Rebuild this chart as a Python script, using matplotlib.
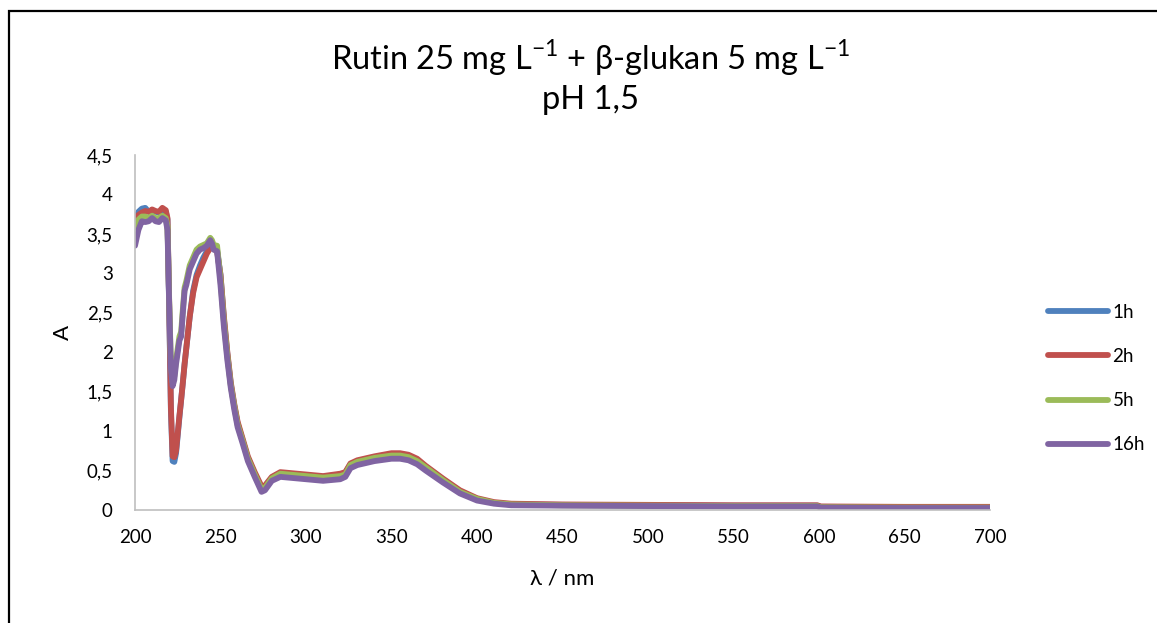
import matplotlib.pyplot as plt
from matplotlib.patches import Rectangle
from matplotlib.ticker import FuncFormatter

plt.rcParams['font.family'] = ['Lato', 'DejaVu Sans']
plt.rcParams['mathtext.fontset'] = 'custom'
plt.rcParams['mathtext.rm'] = 'Lato'

# wavelength grid (nm) and absorbance per sampling time
wavelength = [200, 202, 204, 206, 208, 210, 212, 214, 216, 218, 219, 220, 221, 222, 223, 224,
              226, 227, 228, 229, 230, 232, 234, 236, 238, 240, 242, 244, 245, 246, 248, 250,
              252, 254, 256, 258, 260, 263, 266, 270, 274, 276, 280, 285, 290, 300, 310, 320,
              323, 326, 330, 340, 350, 355, 360, 365, 370, 380, 390, 400, 410, 420, 450, 500,
              550, 599, 601, 650, 700]

abs_1h = [3.68, 3.78, 3.82, 3.83, 3.78, 3.80, 3.78, 3.77, 3.80, 3.78, 3.68, 2.55, 1.25, 0.62, 0.61, 0.72,
          1.18, 1.40, 1.62, 1.85, 2.05, 2.45, 2.78, 2.98, 3.10, 3.20, 3.28, 3.33, 3.36, 3.33, 3.30, 2.98,
          2.42, 1.98, 1.60, 1.33, 1.10, 0.88, 0.66, 0.46, 0.28, 0.30, 0.41, 0.47, 0.46, 0.44, 0.42, 0.45,
          0.47, 0.58, 0.62, 0.67, 0.70, 0.70, 0.68, 0.63, 0.55, 0.39, 0.24, 0.14, 0.09, 0.07, 0.065, 0.06,
          0.055, 0.055, 0.04, 0.035, 0.035]

abs_2h = [3.70, 3.74, 3.77, 3.79, 3.78, 3.81, 3.79, 3.78, 3.83, 3.80, 3.70, 2.60, 1.30, 0.68, 0.67, 0.75,
          1.20, 1.40, 1.62, 1.85, 2.05, 2.45, 2.75, 2.95, 3.05, 3.15, 3.25, 3.32, 3.35, 3.32, 3.28, 2.98,
          2.45, 2.00, 1.62, 1.35, 1.12, 0.90, 0.68, 0.48, 0.30, 0.31, 0.42, 0.48, 0.47, 0.45, 0.43, 0.46,
          0.48, 0.59, 0.63, 0.68, 0.72, 0.72, 0.70, 0.65, 0.56, 0.40, 0.25, 0.15, 0.10, 0.08, 0.07, 0.065,
          0.06, 0.06, 0.045, 0.04, 0.04]

abs_5h = [3.58, 3.68, 3.72, 3.72, 3.70, 3.73, 3.70, 3.70, 3.73, 3.70, 3.60, 2.65, 1.85, 1.62, 1.70, 1.90,
          2.20, 2.26, 2.55, 2.82, 2.90, 3.10, 3.20, 3.30, 3.34, 3.36, 3.38, 3.45, 3.42, 3.36, 3.35, 2.92,
          2.38, 1.95, 1.58, 1.32, 1.08, 0.87, 0.65, 0.45, 0.26, 0.28, 0.40, 0.46, 0.45, 0.43, 0.41, 0.43,
          0.45, 0.57, 0.61, 0.66, 0.69, 0.69, 0.67, 0.62, 0.54, 0.38, 0.23, 0.14, 0.09, 0.07, 0.06, 0.055,
          0.05, 0.05, 0.035, 0.03, 0.03]

abs_16h = [3.35, 3.55, 3.66, 3.65, 3.66, 3.70, 3.66, 3.65, 3.70, 3.67, 3.55, 2.60, 1.80, 1.57, 1.65, 1.85,
           2.15, 2.20, 2.50, 2.78, 2.85, 3.05, 3.15, 3.25, 3.30, 3.32, 3.35, 3.42, 3.38, 3.30, 3.28, 2.85,
           2.32, 1.90, 1.55, 1.28, 1.05, 0.84, 0.62, 0.42, 0.23, 0.25, 0.37, 0.42, 0.41, 0.39, 0.37, 0.39,
           0.42, 0.53, 0.57, 0.62, 0.65, 0.65, 0.63, 0.58, 0.50, 0.35, 0.21, 0.12, 0.08, 0.06, 0.055, 0.05,
           0.045, 0.045, 0.03, 0.025, 0.025]

labels = ['1h', '2h', '5h', '16h']
colors = ['#4F81BD', '#C0504D', '#9BBB59', '#8064A2']
series = [abs_1h, abs_2h, abs_5h, abs_16h]

fig = plt.figure(figsize=(11.57, 6.23), dpi=100)
ax = fig.add_axes([135 / 1157, 113 / 623, 855 / 1157, 355 / 623])

for vals, lab, col in zip(series, labels, colors):
    ax.plot(wavelength, vals, color=col, lw=4.2, label=lab,
            solid_capstyle='round', solid_joinstyle='round')

ax.set_xlim(200, 700)
ax.set_ylim(0, 4.5)
ax.set_xticks(range(200, 701, 50))
ax.set_yticks([i * 0.5 for i in range(10)])
comma = FuncFormatter(lambda v, p: ('%g' % v).replace('.', ','))
ax.yaxis.set_major_formatter(comma)
ax.tick_params(length=0, labelsize=13.5)
ax.tick_params(axis='x', pad=14)
ax.tick_params(axis='y', pad=16)
for s in ['top', 'right']:
    ax.spines[s].set_visible(False)
for s in ['left', 'bottom']:
    ax.spines[s].set_color('#bfbfbf')
    ax.spines[s].set_linewidth(1.2)

ax.set_xlabel('λ / nm', fontsize=16, labelpad=16)
ax.set_ylabel('A', fontsize=16, labelpad=10)

fig.text(0.51, 0.907, 'Rutin 25 mg L$^{\\mathregular{-1}}$ + β-glukan 5 mg L$^{\\mathregular{-1}}$',
         ha='center', va='center', fontsize=23.5)
fig.text(0.51, 0.84, 'pH 1,5', ha='center', va='center', fontsize=23.5)

ax.legend(loc='center left', bbox_to_anchor=(1.048, 0.37), frameon=False,
          fontsize=13.5, handlelength=3.2, handletextpad=0.25, labelspacing=1.45)

# outer chart border
fig.patches.append(Rectangle((8.5 / 1157, -0.1), 1.2, (623 - 11) / 623 + 0.1,
                             transform=fig.transFigure, fill=False,
                             edgecolor='black', lw=1.6))

fig.savefig('out.png', dpi=100)
